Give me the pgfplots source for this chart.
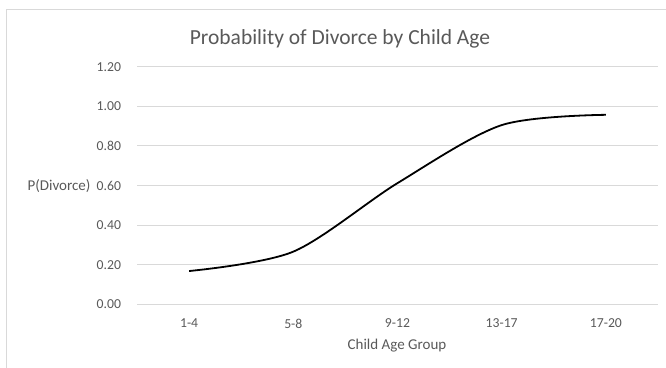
\documentclass[border=0pt]{standalone}
\usepackage{pgfplots}
\pgfplotsset{compat=1.18}
\usepackage{fontspec}
\setmainfont{Carlito}
\definecolor{txt}{HTML}{595959}
\definecolor{grd}{HTML}{D9D9D9}
\begin{document}
\begin{tikzpicture}[x=1pt,y=1pt]
\useasboundingbox (0,0) rectangle (666,367);
\draw[grd,line width=1pt] (6,-20) -- (6,357) -- (700,357);
\begin{axis}[
  at={(137pt,62.7pt)}, anchor=south west,
  scale only axis, width=521pt, height=237.6pt,
  xmin=-0.5, xmax=4.5, ymin=0, ymax=1.2,
  xtick={0,1,2,3,4},
  xticklabels={1-4,5-8,9-12,13-17,17-20},
  ytick={0,0.2,0.4,0.6,0.8,1.0,1.2},
  yticklabel style={/pgf/number format/fixed,/pgf/number format/fixed zerofill,/pgf/number format/precision=2, xshift=-12.5pt},
  /pgf/number format/assume math mode=true,
  axis line style={draw=none},
  tick style={draw=none},
  ymajorgrids, grid style={grd,line width=1pt},
  ticklabel style={font=\fontsize{13.7}{16}\selectfont, text=txt},
  xticklabel style={yshift=-11pt},
  clip=false,
]
\addplot[black, line width=1.8pt, smooth, tension=0.5] coordinates {
  (0,0.168) (1,0.266) (2,0.612) (3,0.905) (4,0.957)
};
\end{axis}
\node[text=txt, font=\fontsize{21.5}{25}\selectfont] at (340,328) {Probability of Divorce by Child Age};
\node[text=txt, font=\fontsize{15}{18}\selectfont] at (59,181) {P(Divorce)};
\node[text=txt, font=\fontsize{15}{18}\selectfont] at (397,21.5) {Child Age Group};
\end{tikzpicture}
\end{document}
